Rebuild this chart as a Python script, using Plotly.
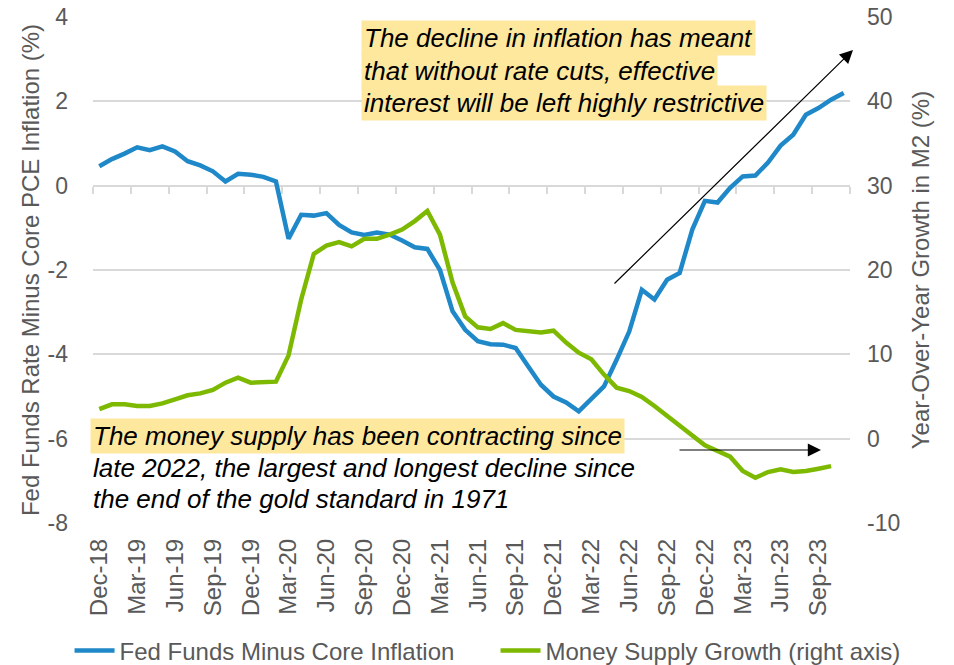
import plotly.graph_objects as go
import pandas as pd

# Monthly categories Dec-2018 .. Nov-2023
months = pd.date_range("2018-12-01", periods=60, freq="MS").strftime("%b-%y").tolist()

tick_labels = ["Dec-18", "Mar-19", "Jun-19", "Sep-19", "Dec-19", "Mar-20", "Jun-20",
               "Sep-20", "Dec-20", "Mar-21", "Jun-21", "Sep-21", "Dec-21", "Mar-22",
               "Jun-22", "Sep-22", "Dec-22", "Mar-23", "Jun-23", "Sep-23"]

left_ticks = [-8, -6, -4, -2, 0, 2, 4]
right_ticks = [-10, 0, 10, 20, 30, 40, 50]

fed_minus_core = [0.46, 0.63, 0.76, 0.91, 0.84, 0.93, 0.81, 0.58, 0.48, 0.34,
                  0.10, 0.28, 0.26, 0.21, 0.10, -1.26, -0.69, -0.71, -0.65, -0.93,
                  -1.11, -1.17, -1.11, -1.16, -1.30, -1.46, -1.50, -2.00, -2.98, -3.42,
                  -3.69, -3.76, -3.77, -3.85, -4.29, -4.72, -5.00, -5.14, -5.35, -5.04,
                  -4.76, -4.13, -3.46, -2.47, -2.70, -2.23, -2.07, -1.04, -0.36, -0.40,
                  -0.05, 0.22, 0.24, 0.55, 0.95, 1.21, 1.68, 1.84, 2.04, 2.20]

m2_growth = [3.5, 4.07, 4.07, 3.87, 3.87, 4.19, 4.66, 5.14, 5.37, 5.77,
             6.64, 7.24, 6.64, 6.64, 6.76, 9.88, 16.5, 21.9, 22.9, 23.3,
             22.8, 23.7, 23.7, 24.2, 24.8, 25.8, 27.0, 24.2, 18.5, 14.5,
             13.2, 13.0, 13.7, 12.9, 12.8, 12.6, 12.8, 11.4, 10.2, 9.4,
             7.6, 6.05, 5.65, 4.95, 3.87, 2.68, 1.49, 0.43, -0.79, -1.47,
             -2.14, -3.84, -4.63, -3.96, -3.64, -3.96, -3.84, -3.56, -3.25]

BLUE = "#1F88C9"
GREEN = "#7DB900"
GRID = "#D9D9D9"
GRAY = "#595959"
HL = "#FDE89E"
FONT = "Liberation Sans, Arial, sans-serif"

idx = list(range(len(months)))
tick_pos = [months.index(t) for t in tick_labels]
boundaries = [i - 0.5 for i in range(0, len(months) + 1, 3)]

fig = go.Figure()
fig.add_trace(go.Scatter(x=idx, y=fed_minus_core, mode="lines", name="Fed Funds Minus Core Inflation",
                         line=dict(color=BLUE, width=4.5), text=months, hoverinfo="text+y"))
fig.add_trace(go.Scatter(x=idx[:len(m2_growth)], y=m2_growth, mode="lines",
                         name="Money Supply Growth (right axis)", yaxis="y2",
                         line=dict(color=GREEN, width=4.5), text=months, hoverinfo="text+y"))
# carrier trace for the tick-mark axis on the zero line
fig.add_trace(go.Scatter(x=idx, y=fed_minus_core, mode="lines", xaxis="x2", yaxis="y",
                         line=dict(width=0, color="rgba(0,0,0,0)"), showlegend=False, hoverinfo="skip"))

# plot area (pixels): x 93..850, y 17..523
W = 757.0
H = 506.0
def px(x):
    return (x - 93) / W
def py(y):
    return (523 - y) / H

fig.update_layout(
    template="none",
    width=954, height=665,
    margin=dict(l=93, r=104, t=17, b=142, autoexpand=False),
    plot_bgcolor="white", paper_bgcolor="white",
    font=dict(family=FONT, color=GRAY),
    showlegend=True,
    legend=dict(orientation="h", x=-0.031, y=py(651), xanchor="left", yanchor="middle",
                font=dict(size=24, color=GRAY, family=FONT), entrywidth=371, entrywidthmode="pixels",
                itemwidth=40, bgcolor="rgba(0,0,0,0)", tracegroupgap=0),
    xaxis=dict(range=[-0.5, len(months) - 0.5], tickmode="array", tickvals=tick_pos, ticktext=tick_labels,
               tickangle=-90, ticks="", showgrid=False, zeroline=False, showline=False, ticklabelstandoff=10,
               tickfont=dict(size=24, color=GRAY, family=FONT), automargin=False),
    xaxis2=dict(overlaying="x", matches="x", anchor="free", position=8 / 12,
                tickmode="array", tickvals=boundaries, ticks="outside", ticklen=7, tickwidth=1.5,
                tickcolor=GRID, showticklabels=False, showgrid=False, zeroline=False, showline=False,
                automargin=False),
    yaxis=dict(range=[-8, 4], tickmode="array", tickvals=left_ticks, ticktext=[str(v) for v in left_ticks],
               showgrid=True, gridcolor=GRID, gridwidth=1.5,
               zeroline=False, showline=False, ticks="",
               tickfont=dict(size=23, color=GRAY, family=FONT), ticklabelstandoff=24,
               title=dict(text="Fed Funds Rate Minus Core PCE Inflation (%)", font=dict(size=24, color=GRAY, family=FONT),
                          standoff=1),
               automargin=False),
    yaxis2=dict(range=[-10, 50], tickmode="array", tickvals=right_ticks, ticktext=[str(v) for v in right_ticks],
                overlaying="y", side="right", showgrid=False,
                zeroline=False, showline=False, ticks="",
                tickfont=dict(size=23, color=GRAY, family=FONT), ticklabelstandoff=16,
                title=dict(text="Year-Over-Year Growth in M2 (%)", font=dict(size=24, color=GRAY, family=FONT),
                           standoff=12),
                automargin=False),
)

top_lines = ["The decline in inflation has meant",
             "that without rate cuts, effective",
             "interest will be left highly restrictive"]
top_y = [38, 71, 103]
for t, yy in zip(top_lines, top_y):
    fig.add_annotation(text=t, xref="paper", yref="paper", x=px(361), y=py(yy), xanchor="left", yanchor="middle",
                       showarrow=False, bgcolor=HL, borderpad=2,
                       font=dict(size=26, color="black", family=FONT, style="italic"))

bottom_lines = ["The money supply has been contracting since",
                "late 2022, the largest and longest decline since",
                "the end of the gold standard in 1971"]
bottom_y = [436, 468, 499]
for k, (t, yy) in enumerate(zip(bottom_lines, bottom_y)):
    fig.add_annotation(text=t, xref="paper", yref="paper", x=px(90), y=py(yy), xanchor="left", yanchor="middle",
                       showarrow=False, bgcolor=HL if k == 0 else "rgba(0,0,0,0)", borderpad=2,
                       font=dict(size=26, color="black", family=FONT, style="italic"))

# arrows
fig.add_annotation(text="", xref="paper", yref="paper", x=px(853), y=py(50), ax=613 - 853, ay=285 - 50,
                   showarrow=True, arrowhead=2, arrowsize=2.2, arrowwidth=1.2, arrowcolor="black")
fig.add_annotation(text="", xref="paper", yref="paper", x=px(821), y=py(450), ax=678 - 821, ay=0,
                   showarrow=True, arrowhead=2, arrowsize=2.2, arrowwidth=1.2, arrowcolor="black")

# remove the page's default 8px body margin so the figure sits at the window origin
fig.write_html("out.html", config={"displayModeBar": False},
               post_script="document.body.style.margin='0';")
